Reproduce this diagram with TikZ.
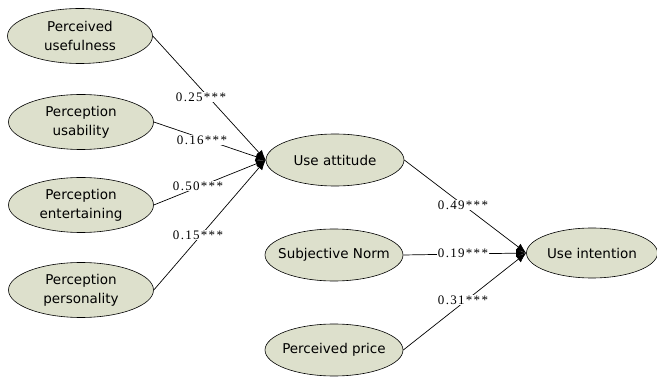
\documentclass[tikz,border=0pt]{standalone}
\usepackage{fontspec}
\setmainfont{DejaVu Sans}
\newfontfamily\lblfont[LetterSpace=10]{Liberation Serif}
\usetikzlibrary{shapes.geometric,arrows.meta}
\definecolor{ellfill}{RGB}{221,224,204}
\tikzset{
  ell/.style={ellipse, draw=black, line width=0.6pt, fill=ellfill, inner ysep=0pt,
    inner xsep=-25pt, align=center, font=\fontsize{13.5}{19}\selectfont},
  lbl/.style={fill=white, inner sep=0.5pt, font=\lblfont\fontsize{13}{14}\selectfont},
  conn/.style={line width=0.7pt, -{Latex[length=10pt,width=8pt]}}
}
\begin{document}
\begin{tikzpicture}[x=1pt,y=-1pt]
\useasboundingbox (0,0) rectangle (657,377);
\node[ell, minimum width=145pt, minimum height=55pt] (pu) at (80,36) {Perceived\\usefulness};
\node[ell, minimum width=145pt, minimum height=55pt] (pus) at (81,122) {Perception\\usability};
\node[ell, minimum width=145pt, minimum height=55pt] (pe) at (81,205) {Perception\\entertaining};
\node[ell, minimum width=145pt, minimum height=55pt] (pp) at (81,290) {Perception\\personality};
\node[ell, minimum width=138pt, minimum height=52pt] (ua) at (335,160) {Use attitude};
\node[ell, minimum width=138pt, minimum height=52pt] (sn) at (334,255) {Subjective Norm};
\node[ell, minimum width=138pt, minimum height=52pt] (pr) at (334,350) {Perceived price};
\node[ell, minimum width=131pt, minimum height=50pt] (ui) at (592,253) {Use intention};
\draw[conn] (pu.east) -- (ua.west);
\draw[conn] (pus.east) -- (ua.west);
\draw[conn] (pe.east) -- (ua.west);
\draw[conn] (pp.east) -- (ua.west);
\draw[conn] (ua.east) -- (ui.west);
\draw[conn] (sn.east) -- (ui.west);
\draw[conn] (pr.east) -- (ui.west);
\node[lbl] (l1) at (201,97) {0.25***};
\node[lbl] (l2) at (202,140) {0.16***};
\node[lbl] (l3) at (198,186) {0.50***};
\node[lbl] (l4) at (198,235) {0.15***};
\node[lbl] (l5) at (463,205) {0.49***};
\node[lbl] (l6) at (463,253) {0.19***};
\node[lbl] (l7) at (463,300) {0.31***};
\end{tikzpicture}
\end{document}
